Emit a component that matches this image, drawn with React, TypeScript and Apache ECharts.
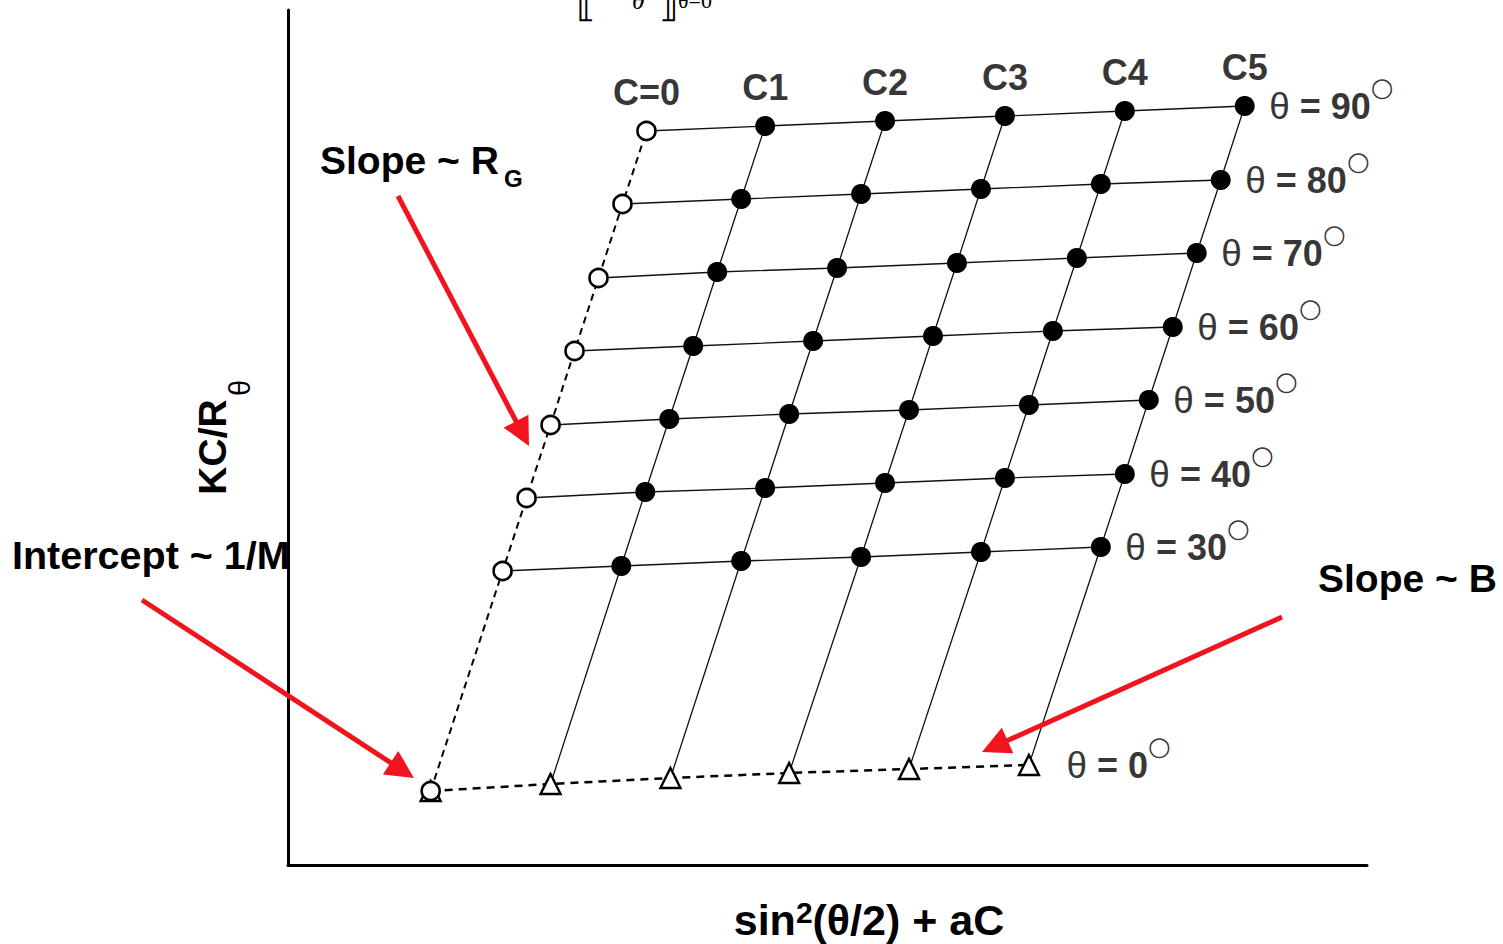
import React, { useEffect, useRef } from "react";
import * as echarts from "echarts";

// concentration series labels and scattering angles
const concLabels = ["C=0", "C1", "C2", "C3", "C4", "C5"];
const angles = [90, 80, 70, 60, 50, 40, 30];

// x = sin^2(theta/2) + aC, y = KC/R_theta  (arbitrary units)
const x90 = [2.99, 3.98, 4.98, 5.98, 6.98, 7.98];
const y90 = [7.34, 7.39, 7.44, 7.49, 7.54, 7.59];
const x80 = [2.79, 3.78, 4.78, 5.78, 6.78, 7.78];
const y80 = [6.61, 6.66, 6.71, 6.76, 6.81, 6.85];
const x70 = [2.59, 3.58, 4.58, 5.58, 6.58, 7.58];
const y70 = [5.87, 5.93, 5.97, 6.02, 6.07, 6.12];
const x60 = [2.39, 3.38, 4.38, 5.38, 6.38, 7.38];
const y60 = [5.14, 5.19, 5.24, 5.29, 5.34, 5.38];
const x50 = [2.19, 3.18, 4.18, 5.18, 6.18, 7.18];
const y50 = [4.40, 4.46, 4.51, 4.55, 4.60, 4.65];
const x40 = [1.99, 2.98, 3.98, 4.98, 5.98, 6.98];
const y40 = [3.67, 3.73, 3.77, 3.82, 3.87, 3.91];
const x30 = [1.79, 2.78, 3.78, 4.78, 5.78, 6.78];
const y30 = [2.94, 2.99, 3.04, 3.08, 3.13, 3.18];
// theta = 0 extrapolation
const x0 = [1.19, 2.19, 3.19, 4.18, 5.18, 6.18];
const y0 = [0.74, 0.81, 0.87, 0.92, 0.96, 1.0];

const FONT = "'Liberation Sans', Arial, Helvetica, sans-serif";
const RED = "#f0141e";

function arrow(x1: number, y1: number, x2: number, y2: number) {
  const dx = x2 - x1, dy = y2 - y1;
  const L = Math.hypot(dx, dy);
  const ux = dx / L, uy = dy / L;
  const hl = 28, hw = 14;
  const bx = x2 - ux * hl, by = y2 - uy * hl;
  const px = -uy, py = ux;
  return [
    { type: "line", shape: { x1, y1, x2: bx + ux * 3, y2: by + uy * 3 }, style: { stroke: RED, lineWidth: 5 }, z: 20 },
    {
      type: "polygon",
      shape: { points: [[x2, y2], [bx + px * hw, by + py * hw], [bx - px * hw, by - py * hw]] },
      style: { fill: RED },
      z: 20,
    },
  ];
}

export default function App() {
  const ref = useRef<HTMLDivElement>(null);
  useEffect(() => {
    document.body.style.margin = "0";
    if (!ref.current) return;
    const chart = echarts.init(ref.current, null, { renderer: "svg" });
    const rowX = [x90, x80, x70, x60, x50, x40, x30];
    const rowY = [y90, y80, y70, y60, y50, y40, y30];

    const series: any[] = [];
    // constant-angle rows (solid)
    rowX.forEach((xs, r) => {
      series.push({
        type: "line",
        data: xs.map((x, i) => [x, rowY[r][i]]),
        showSymbol: false,
        symbol: "none",
        silent: true,
        lineStyle: { color: "#111", width: 1.3 },
        z: 2,
      });
    });
    // constant-concentration columns
    concLabels.forEach((_, i) => {
      const pts: number[][] = [[x0[i], y0[i]]];
      for (let r = rowX.length - 1; r >= 0; r--) pts.push([rowX[r][i], rowY[r][i]]);
      series.push({
        type: "line",
        data: pts,
        showSymbol: false,
        symbol: "none",
        silent: true,
        lineStyle: i === 0 ? { color: "#000", width: 2, type: [7, 5] } : { color: "#111", width: 1.3 },
        z: 2,
      });
    });
    // theta = 0 row (dashed)
    series.push({
      type: "line",
      data: x0.map((x, i) => [x, y0[i]]),
      showSymbol: false,
      symbol: "none",
      silent: true,
      lineStyle: { color: "#000", width: 2.5, type: [8, 6] },
      z: 2,
    });
    // triangles (theta = 0)
    series.push({
      type: "scatter",
      data: x0.map((x, i) => [x, y0[i]]),
      symbol: "triangle",
      symbolSize: 20,
      itemStyle: { color: "#fff", borderColor: "#000", borderWidth: 2.4, opacity: 1 },
      z: 4,
    });
    // open circles (C = 0)
    const open = [[x0[0], y0[0]]].concat(rowX.map((xs, r) => [xs[0], rowY[r][0]]));
    series.push({
      type: "scatter",
      data: open,
      symbol: "circle",
      symbolSize: 18,
      itemStyle: { color: "#fff", borderColor: "#000", borderWidth: 2.6, opacity: 1 },
      z: 5,
    });
    // filled circles
    const filled: number[][] = [];
    rowX.forEach((xs, r) => xs.forEach((x, i) => { if (i > 0) filled.push([x, rowY[r][i]]); }));
    series.push({
      type: "scatter",
      data: filled,
      symbol: "circle",
      symbolSize: 20,
      itemStyle: { color: "#000", opacity: 1 },
      z: 5,
    });
    // concentration labels
    series.push({
      type: "scatter",
      data: x90.map((x, i) => ({ value: [x, y90[i]], name: concLabels[i] })),
      symbolSize: 1,
      itemStyle: { color: "rgba(0,0,0,0)" },
      silent: true,
      label: {
        show: true,
        position: "top",
        distance: 20,
        formatter: (p: any) => p.name,
        fontFamily: FONT,
        fontWeight: "bold",
        fontSize: 36,
        lineHeight: 36,
        color: "#000",
      },
      z: 6,
    });
    // angle labels
    const angleRich = {
      t: { fontFamily: FONT, fontSize: 37, fontWeight: "normal", color: "#000", lineHeight: 64 },
      b: { fontFamily: FONT, fontSize: 36, fontWeight: "bold", color: "#000", lineHeight: 64 },
      d: { fontFamily: "'DejaVu Sans', sans-serif", fontSize: 26, color: "#000", verticalAlign: "top", lineHeight: 6 },
    };
    const angleData = rowX.map((xs, r) => ({ value: [xs[5], rowY[r][5]], name: String(angles[r]) }));
    angleData.push({ value: [x0[5], y0[5]], name: "0", label: { distance: 37 } } as any);
    series.push({
      type: "scatter",
      data: angleData,
      symbolSize: 1,
      itemStyle: { color: "rgba(0,0,0,0)" },
      silent: true,
      label: {
        show: true,
        position: "right",
        distance: 24,
        formatter: (p: any) => `{t|θ}{b| = ${p.name}}{d|○}`,
        rich: angleRich,
      },
      z: 6,
    });

    const txt = (x: number, y: number, text: string, size: number, extra: any = {}) => ({
      type: "text",
      x,
      y,
      z: 30,
      style: {
        text,
        fontFamily: FONT,
        fontWeight: "bold",
        fontSize: size,
        fill: "#000",
        align: "left",
        verticalAlign: "middle",
        ...extra,
      },
    });
    const serif = "'Liberation Serif', 'DejaVu Serif', serif";
    const topTxt = (x: number, y: number, text: string, size: number, style = "italic") => ({
      type: "text",
      x,
      y,
      style: { text, fontFamily: serif, fontStyle: style, fontSize: size, fill: "#000", align: "left", verticalAlign: "bottom" },
    });

    const graphic: any[] = [
      txt(320, 160, "Slope ~ R", 39),
      txt(504, 178, "G", 24),
      txt(12, 555, "Intercept ~ 1/M", 39.5),
      txt(1318, 578, "Slope ~ B", 39),
      {
        type: "text",
        x: 869,
        y: 920,
        z: 30,
        style: {
          text: "{b|sin}{s|2}{b|(θ/2) + aC}",
          align: "center",
          verticalAlign: "middle",
          rich: {
            b: { fontFamily: FONT, fontWeight: "bold", fontSize: 43, lineHeight: 46, fill: "#000" },
            s: { fontFamily: FONT, fontWeight: "bold", fontSize: 30, lineHeight: 30, verticalAlign: "top", fill: "#000" },
          },
        },
      },
      {
        type: "text",
        x: 212,
        y: 447,
        rotation: Math.PI / 2,
        z: 30,
        style: { text: "KC/R", fontFamily: FONT, fontWeight: "bold", fontSize: 39, fill: "#000", align: "center", verticalAlign: "middle" },
      },
      {
        type: "text",
        x: 240,
        y: 388,
        rotation: Math.PI / 2,
        z: 30,
        style: { text: "θ", fontFamily: FONT, fontWeight: "normal", fontSize: 29, fill: "#000", align: "center", verticalAlign: "middle" },
      },
      // formula cut off at the very top of the figure
      topTxt(576, 22, "⟦", 40, "normal"),
      topTxt(606, 4, "R", 40),
      topTxt(632, 13, "θ", 26),
      topTxt(659, 22, "⟧", 40, "normal"),
      topTxt(678, 11, "θ=0", 22, "normal"),
      topTxt(797, 4, "M", 40),
      ...arrow(398, 196, 529, 446),
      ...arrow(142, 600, 414, 778),
      ...arrow(1282, 617, 982, 752),
    ];

    chart.setOption({
      animation: false,
      backgroundColor: "#fff",
      grid: { left: 288, top: 10, right: 136, bottom: 79, containLabel: false },
      xAxis: {
        type: "value",
        min: 0,
        max: 9,
        axisLine: { show: true, onZero: false, lineStyle: { color: "#000", width: 3 } },
        axisTick: { show: false },
        axisLabel: { show: false },
        splitLine: { show: false },
      },
      yAxis: {
        type: "value",
        min: 0,
        max: 8.55,
        axisLine: { show: true, onZero: false, lineStyle: { color: "#000", width: 3 } },
        axisTick: { show: false },
        axisLabel: { show: false },
        splitLine: { show: false },
      },
      tooltip: { show: false },
      series,
      graphic,
    });
    return () => chart.dispose();
  }, []);
  return <div ref={ref} style={{ width: 1503, height: 944, background: "#fff" }} />;
}
